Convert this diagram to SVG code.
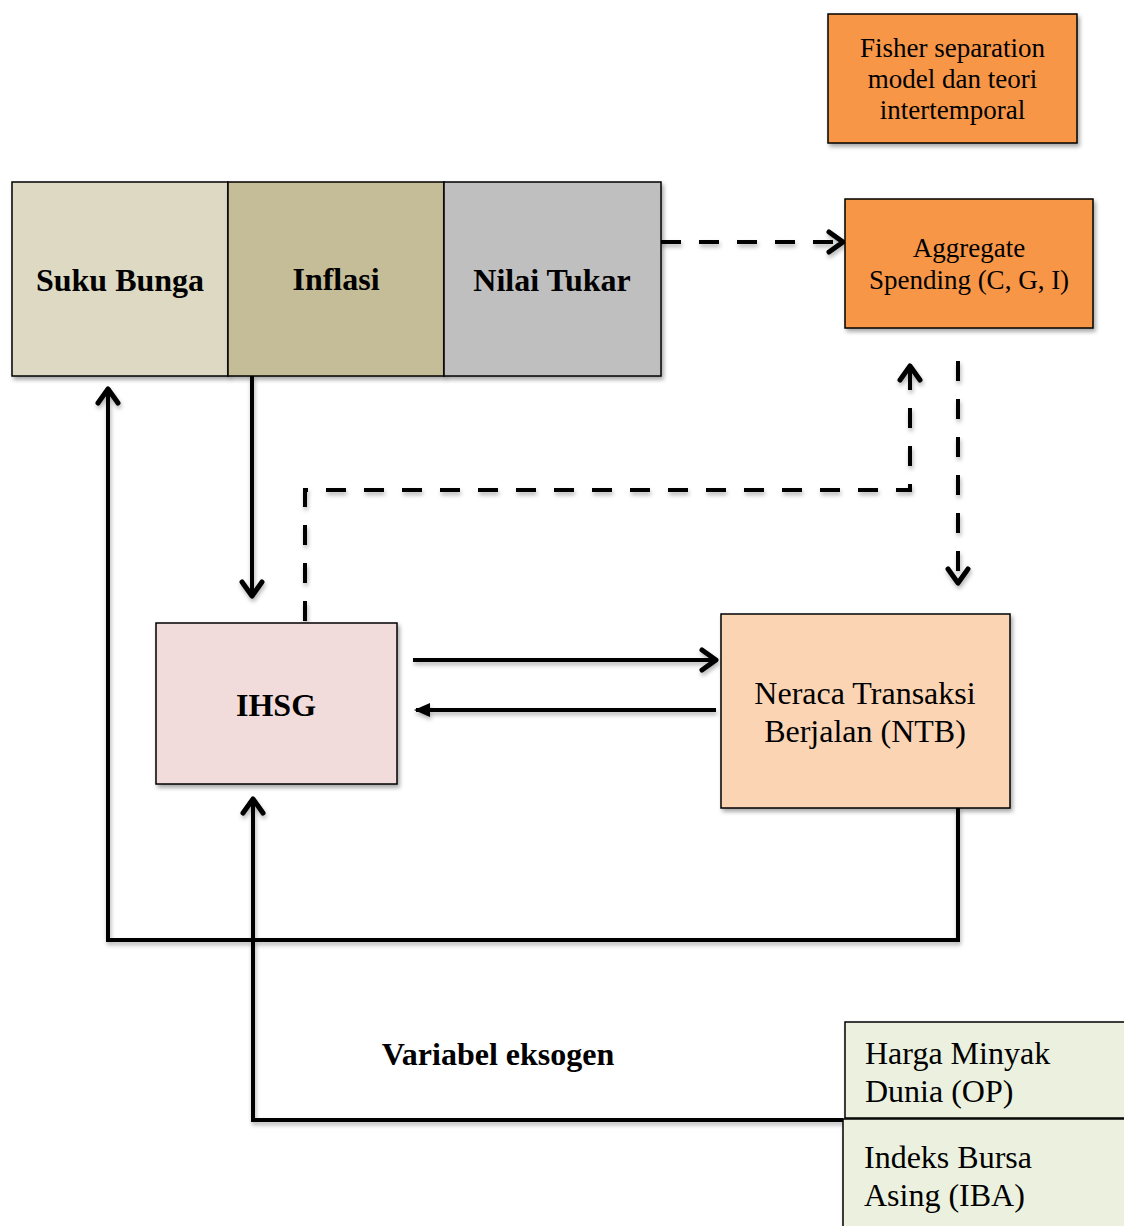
<svg xmlns="http://www.w3.org/2000/svg" width="1124" height="1226" viewBox="0 0 1124 1226">
<defs>
<filter id="sh" x="-10%" y="-10%" width="130%" height="130%">
<feDropShadow dx="2" dy="3" stdDeviation="2" flood-color="#000" flood-opacity="0.35"/>
</filter>
<filter id="shl" filterUnits="userSpaceOnUse" x="0" y="0" width="1124" height="1226">
<feDropShadow dx="1" dy="3" stdDeviation="2" flood-color="#000" flood-opacity="0.3"/>
</filter>
<marker id="ch" markerUnits="userSpaceOnUse" markerWidth="26" markerHeight="28" refX="20" refY="12" orient="auto" viewBox="0 0 26 24">
<path d="M6,2 L20,12 L6,22" fill="none" stroke="#000" stroke-width="5" stroke-linecap="round" stroke-linejoin="round"/>
</marker>
<marker id="tri" markerUnits="userSpaceOnUse" markerWidth="20" markerHeight="20" refX="16" refY="8" orient="auto" viewBox="0 0 20 16">
<path d="M2,1 L18,8 L2,15 Z" fill="#000"/>
</marker>
</defs>
<style>
.box{stroke:#000;stroke-width:1.5;filter:url(#sh)}
.t{font-family:"Liberation Serif","Times New Roman",serif;fill:#000}
.b{font-weight:bold}
.c{fill:none;stroke:#000;stroke-width:4}
.d{stroke-dasharray:20 18}
</style>
<g id="connectors" filter="url(#shl)">
<path class="c d" d="M661,242 L843,242" marker-end="url(#ch)"/>
<path class="c" d="M252,376 L252,596" marker-end="url(#ch)"/>
<path class="c d" d="M305,621 L305,490 L910,490 L910,366" marker-end="url(#ch)"/>
<path class="c d" d="M958,361 L958,583" marker-end="url(#ch)"/>
<path class="c" d="M413,660 L716,660" marker-end="url(#ch)"/>
<path class="c" d="M716,710 L416,710" marker-end="url(#tri)"/>
<path class="c" d="M958,808 L958,940 L108,940 L108,389" marker-end="url(#ch)"/>
<path class="c" d="M843,1120 L253,1120 L253,799" marker-end="url(#ch)"/>
</g>
<g id="fisher">
<rect class="box" x="828" y="14" width="249" height="129" fill="#F79646"/>
<text class="t" font-size="27" text-anchor="middle" x="952.5" y="57">Fisher separation</text>
<text class="t" font-size="27" text-anchor="middle" x="952.5" y="88">model dan teori</text>
<text class="t" font-size="27" text-anchor="middle" x="952.5" y="119">intertemporal</text>
</g>
<g id="aggregate">
<rect class="box" x="845" y="199" width="248" height="129" fill="#F79646"/>
<text class="t" font-size="27" text-anchor="middle" x="969" y="257">Aggregate</text>
<text class="t" font-size="27" text-anchor="middle" x="969" y="289">Spending (C, G, I)</text>
</g>
<g id="suku-bunga">
<rect class="box" x="12" y="182" width="216" height="194" fill="#DDD9C3"/>
<text class="t b" font-size="32" text-anchor="middle" x="120" y="291">Suku Bunga</text>
</g>
<g id="inflasi">
<rect class="box" x="228" y="182" width="216" height="194" fill="#C4BD97"/>
<text class="t b" font-size="32" text-anchor="middle" x="336" y="290">Inflasi</text>
</g>
<g id="nilai-tukar">
<rect class="box" x="444" y="182" width="217" height="194" fill="#BFBFBF"/>
<text class="t b" font-size="32" text-anchor="middle" x="552" y="291">Nilai Tukar</text>
</g>
<g id="ihsg">
<rect class="box" x="156" y="623" width="241" height="161" fill="#F2DCDB"/>
<text class="t b" font-size="32" text-anchor="middle" x="276" y="716">IHSG</text>
</g>
<g id="ntb">
<rect class="box" x="721" y="614" width="289" height="194" fill="#FBD4B4"/>
<text class="t" font-size="32" text-anchor="middle" x="865" y="704">Neraca Transaksi</text>
<text class="t" font-size="32" text-anchor="middle" x="865" y="742">Berjalan (NTB)</text>
</g>
<g id="label-eksogen">
<text class="t b" font-size="32" text-anchor="middle" x="498" y="1065">Variabel eksogen</text>
</g>
<g id="harga-minyak">
<rect class="box" x="845" y="1022" width="285" height="96" fill="#EBF1DE"/>
<text class="t" font-size="32" x="865" y="1064">Harga Minyak</text>
<text class="t" font-size="32" x="865" y="1102">Dunia (OP)</text>
</g>
<g id="indeks-bursa">
<rect class="box" x="843" y="1119" width="287" height="115" fill="#EBF1DE"/>
<text class="t" font-size="32" x="864" y="1168">Indeks Bursa</text>
<text class="t" font-size="32" x="864" y="1206">Asing (IBA)</text>
</g>
</svg>
